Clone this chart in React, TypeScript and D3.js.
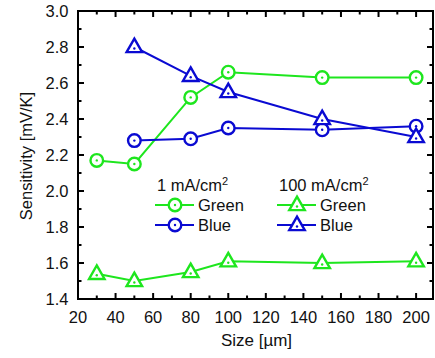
import React from "react";
import * as d3 from "d3";

const sizesGreen = [30, 50, 80, 100, 150, 200];
const sizesBlue = [50, 80, 100, 150, 200];
const green1 = [2.17, 2.15, 2.52, 2.66, 2.63, 2.63];
const blue1 = [2.28, 2.29, 2.35, 2.34, 2.36];
const green100 = [1.54, 1.50, 1.55, 1.61, 1.60, 1.61];
const blue100 = [2.80, 2.64, 2.55, 2.40, 2.30];

const xTicks = [20, 40, 60, 80, 100, 120, 140, 160, 180, 200];
const yTicks = [1.4, 1.6, 1.8, 2.0, 2.2, 2.4, 2.6, 2.8, 3.0];

const GREEN = "#1ee61e";
const BLUE = "#0a0ad2";
const FONT = "'Liberation Sans', Arial, sans-serif";
const FS = 16.5;

const W = 435, H = 358;
const L = 78, R = 433, T = 11, B = 299;

const x = d3.scaleLinear().domain([20, 209]).range([L, R]);
const y = d3.scaleLinear().domain([1.4, 3.0]).range([B, T]);

function Circle({ cx, cy, color }: { cx: number; cy: number; color: string }) {
  return (
    <g>
      <circle cx={cx} cy={cy} r={6.3} fill="white" stroke={color} strokeWidth={2.4} />
      <circle cx={cx} cy={cy} r={1.2} fill={color} />
    </g>
  );
}

function Tri({ cx, cy, color }: { cx: number; cy: number; color: string }) {
  const h = 13.5, w = 15.5;
  const d = `M${cx},${cy - h * 0.62} L${cx + w / 2},${cy + h * 0.38} L${cx - w / 2},${cy + h * 0.38} Z`;
  return (
    <g>
      <path d={d} fill="white" stroke={color} strokeWidth={2.4} strokeLinejoin="miter" />
      <circle cx={cx} cy={cy + 1.5} r={1.2} fill={color} />
    </g>
  );
}

function Series({ xs, ys, color, shape }: { xs: number[]; ys: number[]; color: string; shape: string }) {
  const line = d3.line<number>().x((_, i) => x(xs[i])).y((v) => y(v));
  return (
    <g>
      <path d={line(ys) || ""} fill="none" stroke={color} strokeWidth={2} />
      {ys.map((v, i) =>
        shape === "c" ? (
          <Circle key={i} cx={x(xs[i])} cy={y(v)} color={color} />
        ) : (
          <Tri key={i} cx={x(xs[i])} cy={y(v)} color={color} />
        )
      )}
    </g>
  );
}

export default function App() {
  const xMinor = d3.range(20, 209, 10);
  const yMinor = d3.range(1.4, 3.0001, 0.1);
  const legend = (lx: number, label: string, shape: string) => (
    <g>
      <text x={lx + 2} y={191} fontSize={FS} fontFamily={FONT} fill="#111">
        {label}
        <tspan dy={-6.5} fontSize={11}>2</tspan>
      </text>
      {[
        { c: GREEN, n: "Green", yy: 205 },
        { c: BLUE, n: "Blue", yy: 225 },
      ].map((r) => (
        <g key={r.n}>
          <line x1={lx} x2={lx + 39} y1={r.yy} y2={r.yy} stroke={r.c} strokeWidth={2} />
          {shape === "c" ? (
            <Circle cx={lx + 20} cy={r.yy} color={r.c} />
          ) : (
            <Tri cx={lx + 20} cy={r.yy} color={r.c} />
          )}
          <text x={lx + 43} y={r.yy + 6} fontSize={FS} fontFamily={FONT} fill="#111">
            {r.n}
          </text>
        </g>
      ))}
    </g>
  );
  return (
    <svg width={W} height={H} style={{ position: "absolute", left: 0, top: 0 }}>
      <rect width={W} height={H} fill="white" />
      {xMinor.map((v) => {
        const major = Math.round(v) % 20 === 0;
        const len = major ? 6 : 3.5;
        return (
          <g key={"xm" + v}>
            <line x1={x(v)} x2={x(v)} y1={B} y2={B - len} stroke="#000" strokeWidth={2} />
            <line x1={x(v)} x2={x(v)} y1={T} y2={T + len} stroke="#000" strokeWidth={2} />
          </g>
        );
      })}
      {yMinor.map((v, i) => {
        const major = i % 2 === 0;
        const len = major ? 6 : 3.5;
        return (
          <g key={"ym" + i}>
            <line x1={L} x2={L + len} y1={y(v)} y2={y(v)} stroke="#000" strokeWidth={2} />
            <line x1={R} x2={R - len} y1={y(v)} y2={y(v)} stroke="#000" strokeWidth={2} />
          </g>
        );
      })}
      <rect x={L} y={T} width={R - L} height={B - T} fill="none" stroke="#000" strokeWidth={2} />
      {xTicks.map((v) => (
        <text key={"xt" + v} x={x(v)} y={322.5} textAnchor="middle" fontSize={FS} fontFamily={FONT} fill="#111">
          {v}
        </text>
      ))}
      {yTicks.map((v) => (
        <text key={"yt" + v} x={68.5} y={y(v) + 5.9} textAnchor="end" fontSize={FS} fontFamily={FONT} fill="#111">
          {v.toFixed(1)}
        </text>
      ))}
      <text x={256.5} y={346} textAnchor="middle" fontSize={17} fontFamily={FONT} fill="#111">
        Size [µm]
      </text>
      <text
        transform={`translate(32,156) rotate(-90)`}
        textAnchor="middle"
        fontSize={16.5}
        fontFamily={FONT}
        fill="#111"
      >
        Sensitivity [mV/K]
      </text>
      <Series xs={sizesGreen} ys={green1} color={GREEN} shape="c" />
      <Series xs={sizesBlue} ys={blue1} color={BLUE} shape="c" />
      <Series xs={sizesBlue} ys={blue100} color={BLUE} shape="t" />
      <Series xs={sizesGreen} ys={green100} color={GREEN} shape="t" />
      {legend(155, "1 mA/cm", "c")}
      {legend(277, "100 mA/cm", "t")}
    </svg>
  );
}
